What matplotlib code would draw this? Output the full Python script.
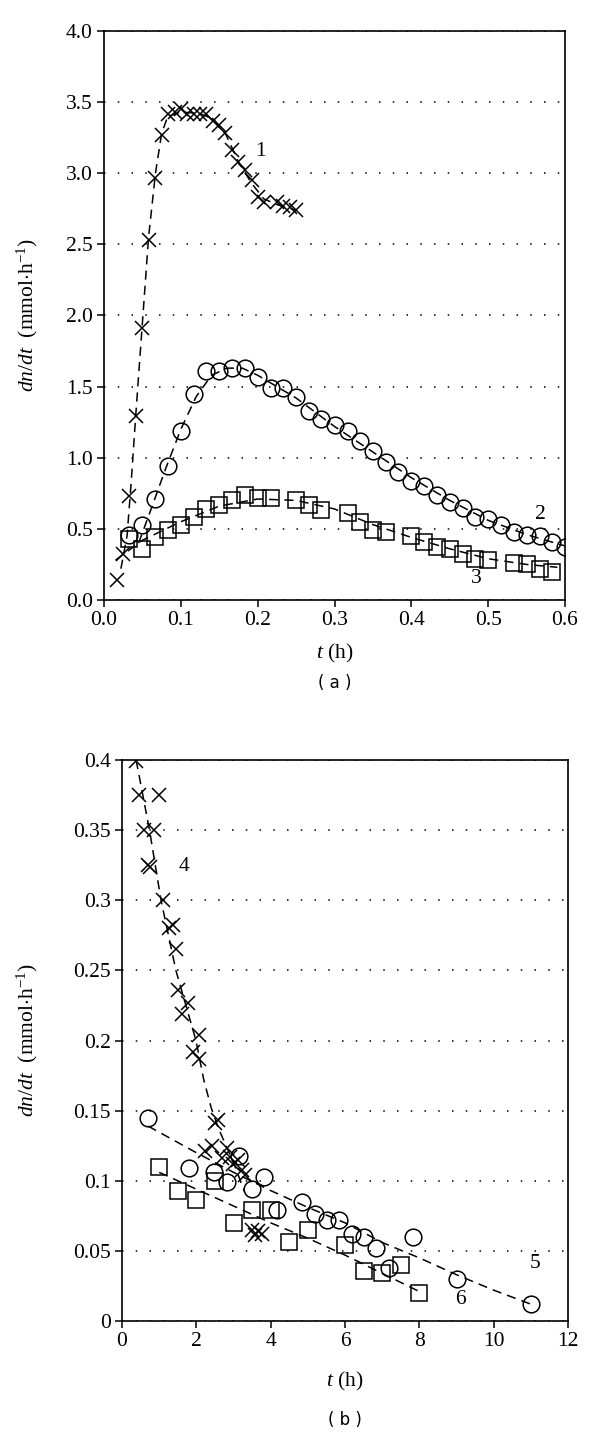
import matplotlib
matplotlib.use('Agg')
import matplotlib.pyplot as plt

plt.rcParams['font.family'] = ['Liberation Serif', 'DejaVu Serif']
plt.rcParams['mathtext.fontset'] = 'custom'
plt.rcParams['mathtext.rm'] = 'Liberation Serif'
plt.rcParams['mathtext.it'] = 'Liberation Serif:italic'
plt.rcParams['font.size'] = 15.5

# ---- panel (a): short times ----
t1 = [0.017, 0.025, 0.033, 0.042, 0.050, 0.058, 0.067, 0.075, 0.083, 0.092,
      0.100, 0.108, 0.117, 0.125, 0.133, 0.142, 0.150, 0.158, 0.167, 0.175,
      0.183, 0.192, 0.200, 0.208, 0.225, 0.233, 0.242, 0.250]
v1 = [0.14, 0.32, 0.73, 1.29, 1.91, 2.53, 2.97, 3.27, 3.42, 3.43,
      3.45, 3.42, 3.42, 3.42, 3.42, 3.37, 3.34, 3.28, 3.16, 3.08,
      3.02, 2.95, 2.83, 2.80, 2.80, 2.77, 2.76, 2.74]

t2 = [0.033, 0.050, 0.067, 0.083, 0.100, 0.117, 0.133, 0.150, 0.167, 0.183,
      0.200, 0.217, 0.233, 0.250, 0.267, 0.283, 0.300, 0.317, 0.333, 0.350,
      0.367, 0.383, 0.400, 0.417, 0.433, 0.450, 0.467, 0.483, 0.500, 0.517,
      0.533, 0.550, 0.567, 0.583, 0.600]
v2 = [0.46, 0.53, 0.71, 0.94, 1.19, 1.45, 1.61, 1.61, 1.63, 1.63,
      1.57, 1.49, 1.49, 1.43, 1.33, 1.27, 1.23, 1.19, 1.12, 1.05,
      0.97, 0.90, 0.84, 0.80, 0.74, 0.69, 0.65, 0.58, 0.57, 0.53,
      0.48, 0.46, 0.45, 0.41, 0.37]

t3 = [0.033, 0.050, 0.067, 0.083, 0.100, 0.117, 0.133, 0.150, 0.167, 0.183,
      0.200, 0.217, 0.250, 0.267, 0.283, 0.317, 0.333, 0.350, 0.367, 0.400,
      0.417, 0.433, 0.450, 0.467, 0.483, 0.500, 0.533, 0.550, 0.567, 0.583]
v3 = [0.43, 0.36, 0.44, 0.49, 0.53, 0.58, 0.64, 0.67, 0.70, 0.74,
      0.72, 0.72, 0.70, 0.67, 0.63, 0.61, 0.55, 0.49, 0.48, 0.45,
      0.41, 0.37, 0.36, 0.32, 0.29, 0.28, 0.26, 0.25, 0.22, 0.20]

# fitted (dashed) curves
f1_t = [0.022, 0.030, 0.035, 0.042, 0.050, 0.058, 0.067, 0.075, 0.083, 0.100,
        0.125, 0.142, 0.158, 0.175, 0.192, 0.208, 0.225, 0.250]
f1_v = [0.22, 0.45, 0.80, 1.35, 1.95, 2.55, 3.00, 3.28, 3.40, 3.43,
        3.42, 3.38, 3.28, 3.08, 2.93, 2.82, 2.78, 2.74]
f2_t = [0.045, 0.06, 0.08, 0.10, 0.12, 0.14, 0.16, 0.18, 0.20, 0.25,
        0.30, 0.35, 0.40, 0.45, 0.50, 0.55, 0.60]
f2_v = [0.40, 0.62, 0.92, 1.20, 1.43, 1.58, 1.63, 1.63, 1.58, 1.42,
        1.22, 1.04, 0.86, 0.70, 0.56, 0.46, 0.38]
f3_t = [0.015, 0.05, 0.10, 0.15, 0.20, 0.25, 0.30, 0.35, 0.40, 0.45, 0.50, 0.55, 0.59]
f3_v = [0.28, 0.42, 0.55, 0.66, 0.71, 0.70, 0.64, 0.53, 0.44, 0.36, 0.29, 0.25, 0.23]

# ---- panel (b): long times ----
t4 = [0.38, 0.47, 1.00, 0.60, 0.87, 0.69, 0.75, 1.09, 1.26, 1.36,
      1.45, 1.52, 1.77, 1.61, 2.06, 1.90, 2.08, 2.50, 2.58, 2.23,
      2.41, 2.68, 2.82, 2.91, 2.99, 3.12, 3.22, 3.31, 3.49, 3.58,
      3.67, 3.76]
v4 = [0.399, 0.375, 0.375, 0.350, 0.350, 0.325, 0.324, 0.300, 0.280, 0.282,
      0.265, 0.236, 0.227, 0.219, 0.204, 0.192, 0.187, 0.141, 0.143, 0.121,
      0.125, 0.116, 0.123, 0.117, 0.112, 0.115, 0.108, 0.104, 0.065, 0.061,
      0.064, 0.062]

t5 = [0.70, 1.81, 2.48, 2.83, 3.15, 3.49, 3.83, 4.16, 4.84, 5.18,
      5.51, 5.85, 6.19, 6.50, 6.84, 7.18, 7.83, 9.0, 11.0]
v5 = [0.145, 0.109, 0.106, 0.099, 0.118, 0.094, 0.103, 0.079, 0.085, 0.076,
      0.072, 0.072, 0.062, 0.060, 0.052, 0.038, 0.060, 0.030, 0.012]

t6 = [1.0, 1.5, 2.0, 2.5, 3.0, 3.5, 4.0, 4.5, 5.0, 6.0, 6.5, 7.0, 7.5, 8.0]
v6 = [0.110, 0.093, 0.086, 0.100, 0.070, 0.079, 0.079, 0.056, 0.065, 0.054,
      0.036, 0.034, 0.040, 0.020]

f4_t = [0.38, 0.74, 1.05, 1.45, 1.99, 2.2, 2.4, 2.6, 2.8, 3.0, 3.3]
f4_v = [0.400, 0.350, 0.300, 0.250, 0.200, 0.172, 0.152, 0.137, 0.125, 0.113, 0.092]
f5_t = [0.7, 2, 3, 4, 5, 6, 7, 8, 9, 10, 11]
f5_v = [0.139, 0.120, 0.106, 0.093, 0.081, 0.070, 0.056, 0.045, 0.033, 0.022, 0.012]
f6_t = [1.0, 2, 3, 4, 5, 6, 7, 8]
f6_v = [0.106, 0.094, 0.082, 0.070, 0.059, 0.047, 0.034, 0.021]

ylab = r'$dn/dt$  (mmol$\cdot$h$^{-1}$)'
xlab = r'$t$ (h)'
fs = 15.5

fig = plt.figure(figsize=(6, 14.48), dpi=100)
ax1 = fig.add_axes([104/600, 1 - 600/1448, 461/600, 569/1448])
ax2 = fig.add_axes([122/600, 1 - 1321/1448, 446/600, 561/1448])

dash = dict(color='black', linestyle=(0, (6, 4)), linewidth=1.1)
mk = dict(linestyle='none', color='black', markerfacecolor='none', markeredgewidth=1.1)


def style(ax):
    for s in ax.spines.values():
        s.set_linewidth(1.2)
    ax.tick_params(direction='out', length=5, width=1.1, top=False, right=False,
                   labelsize=fs, pad=3)
    ax.yaxis.grid(True, color='black', linestyle=(0, (1, 8)), linewidth=1.1)
    ax.set_axisbelow(True)


# (a)
ax1.plot(f1_t, f1_v, **dash)
ax1.plot(f2_t, f2_v, **dash)
ax1.plot(f3_t, f3_v, **dash)
ax1.plot(t1, v1, marker='x', markersize=10.5, **mk)
ax1.plot(t2, v2, marker='o', markersize=12, **mk)
ax1.plot(t3, v3, marker='s', markersize=11, **mk)
ax1.text(0.204, 3.15, '1', ha='center', va='center', fontsize=fs)
ax1.text(0.568, 0.60, '2', ha='center', va='center', fontsize=fs)
ax1.text(0.484, 0.15, '3', ha='center', va='center', fontsize=fs)
ax1.set_xlim(0, 0.6)
ax1.set_ylim(0, 4.0)
ax1.set_xticks([0.0, 0.1, 0.2, 0.3, 0.4, 0.5, 0.6])
ax1.set_yticks([0.0, 0.5, 1.0, 1.5, 2.0, 2.5, 3.0, 3.5, 4.0])
ax1.set_xticklabels(['0.0', '0.1', '0.2', '0.3', '0.4', '0.5', '0.6'])
ax1.set_yticklabels(['0.0', '0.5', '1.0', '1.5', '2.0', '2.5', '3.0', '3.5', '4.0'])
ax1.set_xlabel(xlab, fontsize=fs)
ax1.set_ylabel(ylab, fontsize=fs)
ax1.xaxis.set_label_coords(0.5, -0.073)
ax1.yaxis.set_label_coords(-0.139, 0.5)
style(ax1)

# (b)
ax2.plot(f4_t, f4_v, **dash)
ax2.plot(f5_t, f5_v, **dash)
ax2.plot(f6_t, f6_v, **dash)
ax2.plot(t4, v4, marker='x', markersize=10.5, **mk)
ax2.plot(t5, v5, marker='o', markersize=12, **mk)
ax2.plot(t6, v6, marker='s', markersize=11, **mk)
ax2.text(1.68, 0.324, '4', ha='center', va='center', fontsize=fs)
ax2.text(11.12, 0.041, '5', ha='center', va='center', fontsize=fs)
ax2.text(9.1, 0.015, '6', ha='center', va='center', fontsize=fs)
ax2.set_xlim(0, 12)
ax2.set_ylim(0, 0.4)
ax2.set_xticks([0, 2, 4, 6, 8, 10, 12])
ax2.set_yticks([0, 0.05, 0.1, 0.15, 0.2, 0.25, 0.3, 0.35, 0.4])
ax2.set_yticklabels(['0', '0.05', '0.1', '0.15', '0.2', '0.25', '0.3', '0.35', '0.4'])
ax2.set_xlabel(xlab, fontsize=fs)
ax2.set_ylabel(ylab, fontsize=fs)
ax2.xaxis.set_label_coords(0.5, -0.088)
ax2.yaxis.set_label_coords(-0.184, 0.5)
style(ax2)

fig.text(0.5575, 1 - 683/1448, '( a )', ha='center', va='center',
         fontsize=12, family='DejaVu Sans')
fig.text(0.575, 1 - 1420/1448, '( b )', ha='center', va='center',
         fontsize=12, family='DejaVu Sans')

fig.savefig('out.png', dpi=100)
